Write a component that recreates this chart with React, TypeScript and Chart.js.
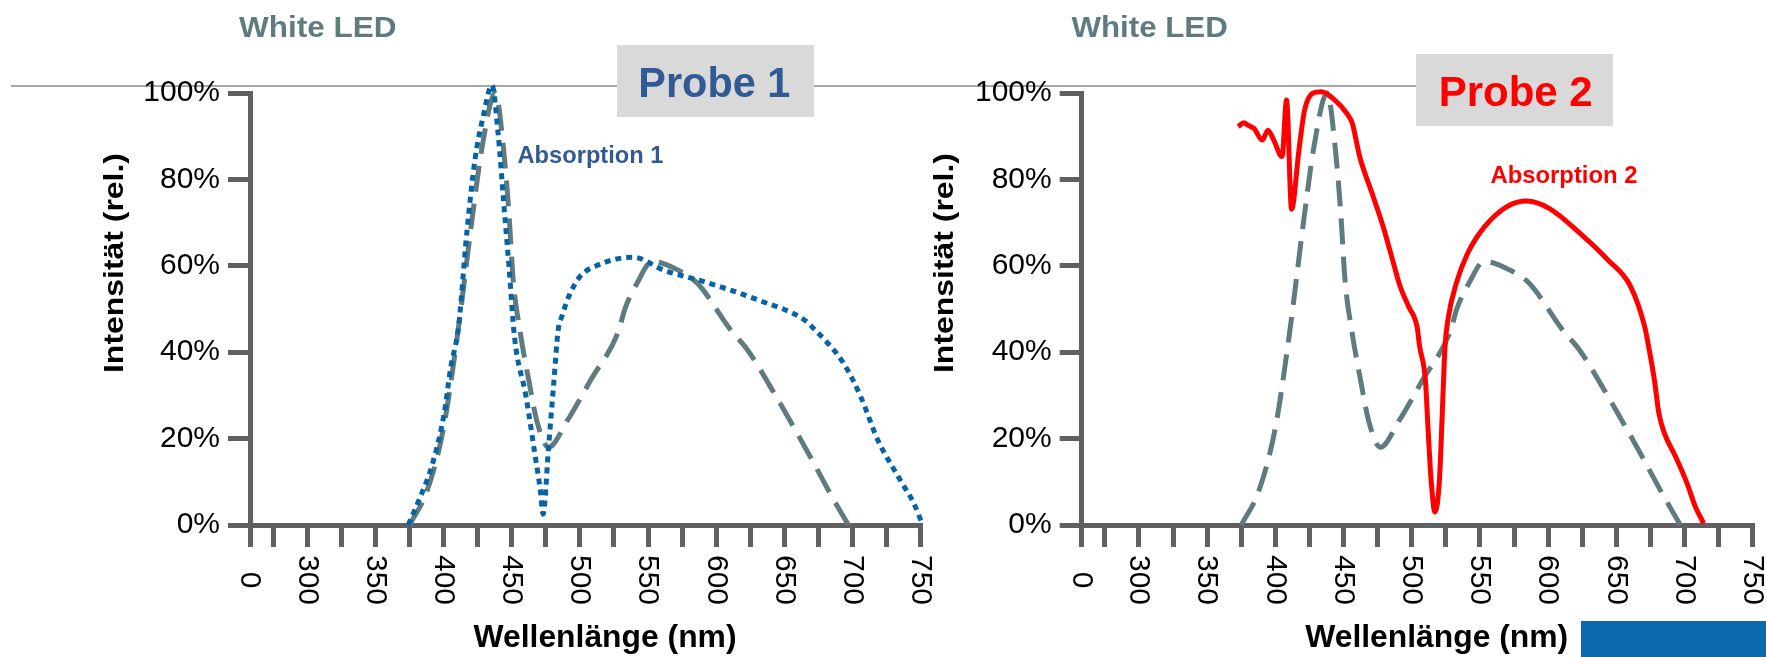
import { useEffect, useRef } from 'react';
import { Chart, registerables } from 'chart.js';

Chart.register(...registerables);

// ---- data ----
const xTickValues = [258, 275, 300, 325, 350, 375, 400, 425, 450, 475, 500, 525, 550, 575, 600, 625, 650, 675, 700, 725, 750];
const xTickLabels = ['0', '', '300', '', '350', '', '400', '', '450', '', '500', '', '550', '', '600', '', '650', '', '700', '', '750'];
const yTickValues = [0, 20, 40, 60, 80, 100];

// White LED spectrum (dashed grey)
const ledNm = [375, 388, 400, 410, 421, 428, 438, 444, 448, 451, 456, 462.5, 468.5, 477, 491, 508, 528.5, 533, 542, 553, 572, 586, 611, 623, 644, 669, 685, 697];
const ledPct = [0, 8, 22.5, 43.5, 71, 87, 100, 87, 72, 57, 45, 33.5, 24, 18, 24.3, 33.6, 45, 50, 56, 61, 59, 56, 45, 40.5, 29.7, 15.8, 6.5, 0];

// Absorption 1 (dotted blue)
const abs1Nm = [374, 382, 392, 400.5, 405, 411, 417, 423, 429, 435.5, 440, 444, 448, 452, 460.5, 466.5, 471, 473, 477, 481, 484, 487, 492, 500, 512, 539, 561.5, 594.5, 631.5, 664.5, 673, 693.5, 706, 718.5, 735, 745, 751, 757];
const abs1Pct = [0, 5.8, 14.3, 25.9, 36, 46, 67.5, 84.5, 94.5, 101.8, 90.7, 75, 59.8, 43.6, 29.7, 17.4, 8, 2.5, 18, 33.6, 45, 48.5, 53, 57.5, 60, 62, 59, 56, 52, 47.5, 45, 37.4, 29.7, 19.7, 10.4, 5, 0.5, -2.7];

// Absorption 2 (solid red)
const abs2Nm = [372.8, 376.8, 380, 384.3, 390.4, 394.6, 398.8, 404.9, 408.2, 411.9, 417.3, 421.4, 427.6, 433.7, 442, 452.3, 456.4, 461.8, 470.9, 479.1, 487.3, 491.5, 497.8, 503.9, 505.8, 510, 512, 514.2, 517, 520.3, 522.4, 524.4, 526.5, 532.7, 541, 553.3, 569.8, 584.3, 600.8, 623.4, 644, 660.5, 670.8, 673.7, 677.9, 681.2, 685.3, 693.5, 701.8, 708, 714];
const abs2Pct = [92.2, 93.1, 92.5, 91.8, 89.1, 91.4, 89.1, 85.3, 98.4, 73.1, 86.8, 96, 100, 100.3, 98.8, 95.3, 93, 85.3, 76.8, 69, 59.8, 55.2, 50.5, 45.9, 41.3, 33.6, 22, 10.4, 3, 10.4, 26, 41.3, 47.5, 56, 62.9, 69, 73.7, 75, 73.3, 67.5, 61.3, 55.2, 45.9, 41.3, 33.6, 25.9, 21.2, 15.8, 9.7, 4.2, 0.4];

const FONT = '"Liberation Sans", Arial, Helvetica, sans-serif';
const AXIS = '#606060';
const TEAL = '#5f7b80';
const BLUE_TXT = '#2f5a94';
const BLUE_DOT = '#0563a6';
const RED = '#ff0000';

const pts = (xs: number[], ys: number[]) => xs.map((x, i) => ({ x, y: ys[i] }));

function fitText(ctx: CanvasRenderingContext2D, text: string, x: number, y: number, font: string, color: string, width: number, rot = 0) {
  ctx.save();
  ctx.translate(x, y);
  if (rot) ctx.rotate(rot);
  ctx.font = font;
  const w = ctx.measureText(text).width;
  ctx.scale(width / w, 1);
  ctx.fillStyle = color;
  ctx.textAlign = 'center';
  ctx.textBaseline = 'alphabetic';
  ctx.fillText(text, 0, 0);
  ctx.restore();
}

type Deco = {
  offset: number;
  lineFrom: number;
  lineTo: number;
  titleX: number;
  titleW: number;
  box: { x: number; y: number; w: number; h: number };
  probe: { text: string; color: string; x: number; y: number; w: number };
  abs: { text: string; color: string; x: number; y: number; w: number };
  yTitleX: number;
  xTitleX: number;
  blueRect: boolean;
};

function makePlugin(d: Deco) {
  return {
    id: 'deco',
    beforeDraw(chart: any) {
      const ctx: CanvasRenderingContext2D = chart.ctx;
      const o = d.offset;
      ctx.save();
      ctx.fillStyle = '#a6a6a6';
      ctx.fillRect(d.lineFrom - o, 85, d.lineTo - d.lineFrom, 2);
      ctx.fillStyle = '#d9d9d9';
      ctx.fillRect(d.box.x - o, d.box.y, d.box.w, d.box.h);
      if (d.blueRect) {
        ctx.fillStyle = '#0a6aad';
        ctx.fillRect(1581 - o, 621, 185, 36);
      }
      ctx.restore();
    },
    afterDraw(chart: any) {
      const ctx: CanvasRenderingContext2D = chart.ctx;
      const o = d.offset;
      const xs = chart.scales.x;
      ctx.save();
      ctx.font = '30px ' + FONT;
      ctx.fillStyle = '#000';
      ctx.textAlign = 'center';
      ctx.textBaseline = 'alphabetic';
      xTickValues.forEach((v, i) => {
        const lab = xTickLabels[i];
        if (!lab) return;
        const px = xs.getPixelForValue(v);
        ctx.save();
        ctx.translate(px + 2, 580);
        ctx.rotate(Math.PI / 2);
        ctx.fillText(lab, 0, 10.7);
        ctx.restore();
      });
      ctx.restore();
      fitText(ctx, 'White LED', d.titleX - o, 36.7, 'bold 30px ' + FONT, TEAL, d.titleW);
      fitText(ctx, d.probe.text, d.probe.x - o, d.probe.y, 'bold 42px ' + FONT, d.probe.color, d.probe.w);
      fitText(ctx, d.abs.text, d.abs.x - o, d.abs.y, 'bold 24px ' + FONT, d.abs.color, d.abs.w);
      fitText(ctx, 'Intensität (rel.)', d.yTitleX - o, 263, 'bold 28px ' + FONT, '#000', 220, -Math.PI / 2);
      fitText(ctx, 'Wellenlänge (nm)', d.xTitleX - o, 646.7, 'bold 31px ' + FONT, '#000', 263);
    },
  };
}

function makeConfig(absData: { x: number; y: number }[], absColor: string, absDash: number[], yWidth: number, padRight: number, deco: Deco): any {
  const gridOpts = {
    display: true,
    drawOnChartArea: false,
    drawTicks: true,
    tickLength: 22,
    tickWidth: 5,
    tickColor: AXIS,
    color: AXIS,
    lineWidth: 5,
  };
  return {
    type: 'line',
    data: {
      datasets: [
        {
          label: deco.abs.text,
          data: absData,
          borderColor: absColor,
          borderWidth: 5,
          borderDash: absDash,
          borderCapStyle: 'butt',
          pointRadius: 0,
          fill: false,
          cubicInterpolationMode: 'monotone',
          clip: false,
        },
        {
          label: 'White LED',
          data: pts(ledNm, ledPct),
          borderColor: TEAL,
          borderWidth: 5,
          borderDash: [26, 12],
          borderCapStyle: 'butt',
          pointRadius: 0,
          fill: false,
          cubicInterpolationMode: 'monotone',
          clip: false,
        },
      ],
    },
    options: {
      responsive: false,
      animation: false,
      devicePixelRatio: 1,
      layout: { padding: { left: 0, top: 93, right: padRight, bottom: 0 } },
      plugins: { legend: { display: false }, tooltip: { enabled: false }, title: { display: false } },
      scales: {
        x: {
          type: 'linear',
          min: 258,
          max: 750,
          afterBuildTicks: (s: any) => {
            s.ticks = xTickValues.map((v) => ({ value: v }));
          },
          afterFit: (s: any) => {
            s.height = 132;
          },
          ticks: { display: false },
          grid: gridOpts,
          border: { display: true, color: AXIS, width: 5 },
        },
        y: {
          type: 'linear',
          min: 0,
          max: 100,
          afterBuildTicks: (s: any) => {
            s.ticks = yTickValues.map((v) => ({ value: v }));
          },
          afterFit: (s: any) => {
            s.width = yWidth;
          },
          ticks: {
            callback: (v: any) => v + '%',
            font: { size: 30, family: FONT },
            color: '#000',
            padding: 8,
          },
          grid: gridOpts,
          border: { display: true, color: AXIS, width: 5 },
        },
      },
    },
    plugins: [makePlugin(deco)],
  };
}

const leftDeco: Deco = {
  offset: 0,
  lineFrom: 11,
  lineTo: 883,
  titleX: 317.8,
  titleW: 157.5,
  box: { x: 617, y: 45, w: 197, h: 72 },
  probe: { text: 'Probe 1', color: BLUE_TXT, x: 714.3, y: 96.7, w: 152 },
  abs: { text: 'Absorption 1', color: BLUE_TXT, x: 590.5, y: 163.3, w: 146 },
  yTitleX: 123.3,
  xTitleX: 605,
  blueRect: false,
};

const rightDeco: Deco = {
  offset: 883,
  lineFrom: 883,
  lineTo: 1416,
  titleX: 1149.6,
  titleW: 156.4,
  box: { x: 1416, y: 54, w: 197, h: 72 },
  probe: { text: 'Probe 2', color: RED, x: 1515.7, y: 106, w: 154 },
  abs: { text: 'Absorption 2', color: RED, x: 1564, y: 183.3, w: 147 },
  yTitleX: 953.3,
  xTitleX: 1436.7,
  blueRect: true,
};

export default function App() {
  const leftRef = useRef<HTMLCanvasElement | null>(null);
  const rightRef = useRef<HTMLCanvasElement | null>(null);

  useEffect(() => {
    const c1 = new Chart(leftRef.current as HTMLCanvasElement, makeConfig(pts(abs1Nm, abs1Pct), BLUE_DOT, [6, 5], 250, 19.3, leftDeco));
    const c2 = new Chart(rightRef.current as HTMLCanvasElement, makeConfig(pts(abs2Nm, abs2Pct), RED, [], 198.7, 13.3, rightDeco));
    return () => {
      c1.destroy();
      c2.destroy();
    };
  }, []);

  return (
    <div style={{ position: 'absolute', left: 0, top: 0, width: 1766, height: 657, background: '#fff', overflow: 'hidden' }}>
      <canvas ref={leftRef} width={940} height={657} style={{ position: 'absolute', left: 0, top: 0, width: 940, height: 657 }} />
      <canvas ref={rightRef} width={883} height={657} style={{ position: 'absolute', left: 883, top: 0, width: 883, height: 657 }} />
    </div>
  );
}
